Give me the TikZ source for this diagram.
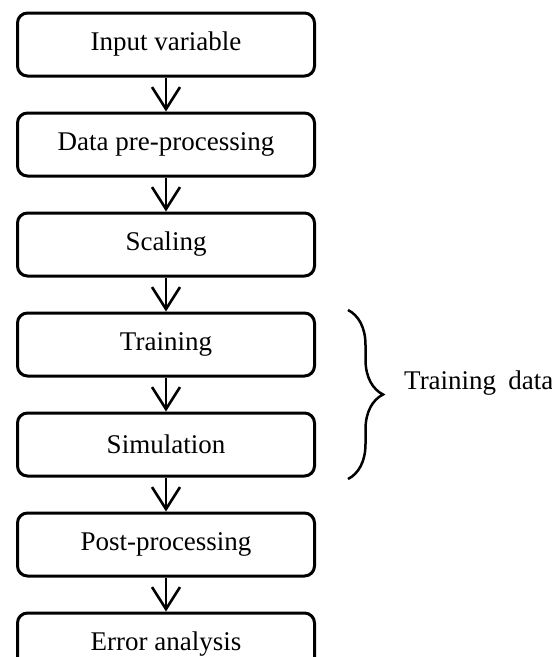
\documentclass[tikz,border=0pt]{standalone}
\usepackage{fontspec}
\setmainfont{Liberation Serif}
\usetikzlibrary{positioning,arrows.meta,decorations.pathreplacing,calc}
\tikzset{stepbox/.style={draw,line width=3pt,rounded corners=10pt,minimum width=297pt,minimum height=63pt,inner sep=0pt,font=\fontsize{27}{32}\selectfont},
flow/.style={line width=2.6pt,-{Straight Barb[length=22pt,width=28pt,line width=2.6pt]}}}
\begin{document}
\begin{tikzpicture}[x=1pt,y=-1pt,node distance=34pt]
\useasboundingbox (0,0) rectangle (552,657);
\node[stepbox] (inp) at (166,44.5) {Input variable};
\node[stepbox,below=of inp] (pre) {Data pre-processing};
\node[stepbox,below=of pre] (scal) {Scaling};
\node[stepbox,below=of scal] (train) {Training};
\node[stepbox,below=of train] (sim) {Simulation};
\node[stepbox,below=of sim] (post) {Post-processing};
\node[stepbox,below=of post] (err) {Error analysis};
\foreach \a/\b in {inp/pre,pre/scal,scal/train,train/sim,sim/post,post/err}\draw[flow] (\a) -- (\b);
\coordinate (bt) at ([xshift=32pt,yshift=1.5pt]train.north east);
\coordinate (bb) at ([xshift=32pt,yshift=-1.5pt]sim.south east);
\draw[line width=2.5pt,decorate,decoration={brace,amplitude=35pt}] (bt) -- (bb);
\coordinate (tip) at ($(bt)!.5!(bb)+(35,0)$);
\node[anchor=base west,inner sep=0pt,font=\fontsize{27}{32}\selectfont] (tdata) at ($(tip)+(21,-5)$) {Training\hspace{0.45em}data};
\end{tikzpicture}
\end{document}
